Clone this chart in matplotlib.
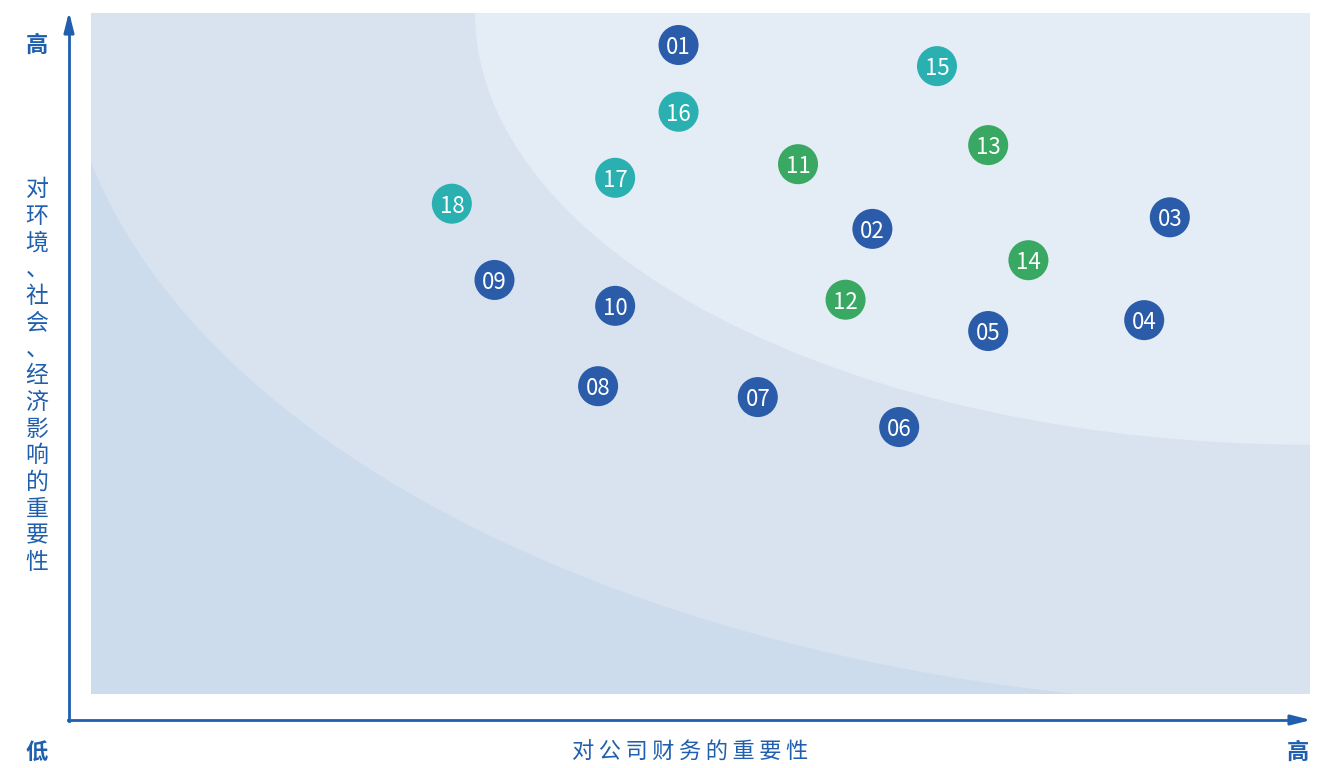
import matplotlib.pyplot as plt
from matplotlib.patches import Ellipse

plt.rcParams['font.family'] = ['Noto Sans CJK SC', 'DejaVu Sans']

labels = ['01', '02', '03', '04', '05', '06', '07', '08', '09', '10',
          '11', '12', '13', '14', '15', '16', '17', '18']
x_fin = [48.2, 64.1, 88.5, 86.4, 73.6, 66.3, 54.7, 41.6, 33.1, 43.0,
         58.0, 61.9, 73.6, 76.9, 69.4, 48.2, 43.0, 29.6]
y_esg = [95.3, 68.3, 70.0, 54.9, 53.3, 39.2, 43.6, 45.2, 60.8, 57.0,
         77.8, 57.9, 80.6, 63.7, 92.2, 85.5, 75.8, 72.0]
group = ['e'] * 10 + ['g'] * 4 + ['t'] * 4

colors = {'e': '#2a5caa', 'g': '#38a862', 't': '#2bb0b2'}
blue = '#1f5fad'

fig = plt.figure(figsize=(13.35, 7.68), dpi=100)
W, H = 1335, 768
ax = fig.add_axes([91 / W, 1 - 694 / H, 1219 / W, 681 / H])
ax.set_xlim(0, 100)
ax.set_ylim(0, 100)
ax.set_facecolor('#d8e3ef')
for s in ax.spines.values():
    s.set_visible(False)
ax.set_xticks([])
ax.set_yticks([])

# zones: ellipses centred on the top-right corner
ax.add_patch(Ellipse((50, 50), 400, 400, facecolor='#cddcec', edgecolor='none', zorder=0))
ax.add_patch(Ellipse((100, 100), 2 * 102.4, 2 * 101.8, facecolor='#d8e3ef', edgecolor='none', zorder=1))
ax.add_patch(Ellipse((100, 100), 2 * 68.5, 2 * 63.4, facecolor='#e4ecf5', edgecolor='none', zorder=2))

for lab, x, y, g in zip(labels, x_fin, y_esg, group):
    ax.scatter(x, y, s=830, color=colors[g], edgecolors='none', zorder=5)
    ax.text(x, y, lab, color='white', fontsize=16, ha='center', va='center_baseline', zorder=6)

# axis arrows
fig.add_artist(plt.Line2D([69 / W, 69 / W], [1 - 721 / H, 1 - 28 / H], color=blue, lw=2))
fig.add_artist(plt.Line2D([68 / W, 1296 / W], [1 - 720 / H, 1 - 720 / H], color=blue, lw=2))
ax.annotate('', xy=(69 / W, 1 - 9 / H), xytext=(69 / W, 1 - 32 / H), xycoords='figure fraction',
            arrowprops=dict(arrowstyle='-|>,head_length=1.2,head_width=0.3', color=blue, lw=2))
ax.annotate('', xy=(1314 / W, 1 - 720 / H), xytext=(1290 / W, 1 - 720 / H), xycoords='figure fraction',
            arrowprops=dict(arrowstyle='-|>,head_length=1.2,head_width=0.3', color=blue, lw=2))

fig.text(37 / W, 1 - 45 / H, '高', color=blue, fontsize=16, fontweight='bold', ha='center', va='center')
fig.text(37 / W, 1 - 752 / H, '低', color=blue, fontsize=16, fontweight='bold', ha='center', va='center')
fig.text(1298 / W, 1 - 752 / H, '高', color=blue, fontsize=16, fontweight='bold', ha='center', va='center')

ylab = '对环境、社会、经济影响的重要性'
fig.text(37 / W, 1 - 376 / H, '\n'.join(ylab), color=blue, fontsize=16.5, ha='center', va='center',
         linespacing=1.2)
xlab = '对公司财务的重要性'
fig.text(690 / W, 1 - 752 / H, '\u2009'.join(xlab), color=blue, fontsize=16, ha='center', va='center')

fig.savefig('out.png', dpi=100)
